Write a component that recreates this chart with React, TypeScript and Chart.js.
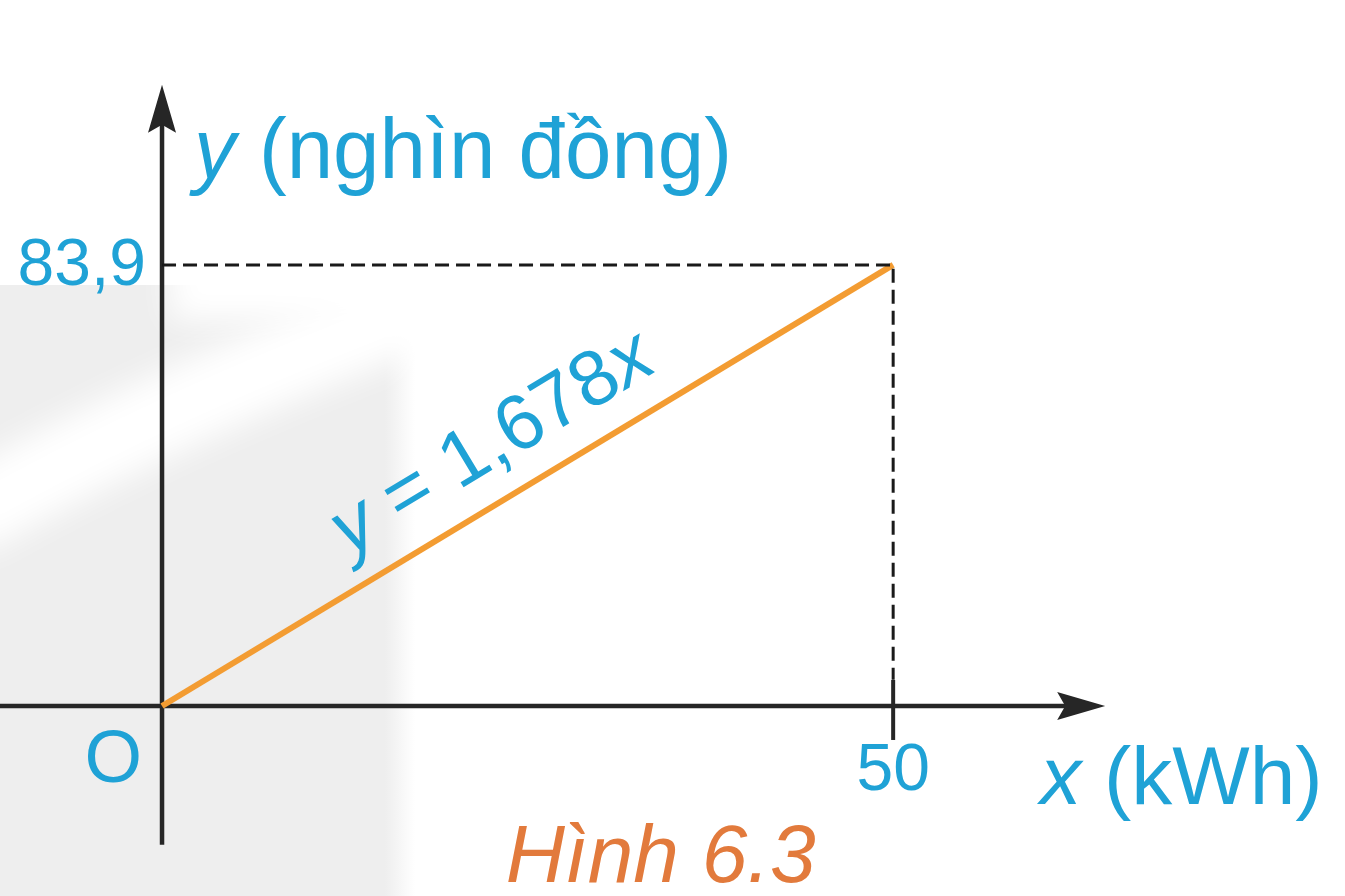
import React, { useEffect, useRef } from 'react';
import { Chart, registerables } from 'chart.js';

Chart.register(...registerables);

// ===== data =====
const X_VALUES = [0, 50]; // kWh
const Y_VALUES = [0, 83.9]; // nghìn đồng
const X_TICKS = [50];
const X_TICK_LABELS = ['50'];
const Y_TICKS = [83.9];
const Y_TICK_LABELS = ['83,9'];
const ORIGIN_LABEL = 'O';
// [text, italic] runs so the variable letters come out in italic
const X_TITLE: [string, boolean][] = [['x', true], [' (kWh)', false]];
const Y_TITLE: [string, boolean][] = [['y', true], [' (nghìn đồng)', false]];
const LINE_LABEL: [string, boolean][] = [['y', true], [' = 1,678', false], ['x', true]];
const CAPTION = 'Hình 6.3';

// visible window and axis extents (data units)
const X_MIN = -11.08;
const X_MAX = 80.9;
const Y_MIN = -36.15;
const Y_MAX = 134.3;
const X_AXIS_END = 64.5;
const Y_AXIS_START = -26.4;
const Y_AXIS_END = 118.2;
const LINE_LABEL_AT = 24.5;

const W = 1345;
const H = 896;

const BLUE = '#1fa2d6';
const ORANGE = '#f39c32';
const CAPTION_COLOR = '#e27a3c';
const AXIS_COLOR = '#262626';
const FONT = '"Liberation Sans", Arial, sans-serif';

function fontOf(size: number, italic: boolean) {
  return `${italic ? 'italic ' : ''}${size}px ${FONT}`;
}

// draws a line of text made of runs; align is applied to the whole line
function drawRuns(
  ctx: CanvasRenderingContext2D,
  runs: [string, boolean][],
  x: number,
  y: number,
  size: number,
  color: string,
  align: 'left' | 'center' | 'right',
  baseline: CanvasTextBaseline,
  sx = 1,
) {
  ctx.save();
  ctx.translate(x, y);
  ctx.scale(sx, 1);
  ctx.fillStyle = color;
  ctx.textBaseline = baseline;
  ctx.textAlign = 'left';
  let total = 0;
  const widths = runs.map(([t, it]) => {
    ctx.font = fontOf(size, it);
    const w = ctx.measureText(t).width;
    total += w;
    return w;
  });
  let cx = align === 'left' ? 0 : align === 'center' ? -total / 2 : -total;
  runs.forEach(([t, it], i) => {
    ctx.font = fontOf(size, it);
    ctx.fillText(t, cx, 0);
    cx += widths[i];
  });
  ctx.restore();
}

function drawText(
  ctx: CanvasRenderingContext2D,
  str: string,
  x: number,
  y: number,
  size: number,
  color: string,
  align: 'left' | 'center' | 'right',
  baseline: CanvasTextBaseline,
  italic = false,
) {
  drawRuns(ctx, [[str, italic]], x, y, size, color, align, baseline);
}

function arrow(ctx: CanvasRenderingContext2D, tx: number, ty: number, ang: number) {
  const len = 48;
  const half = 14;
  ctx.save();
  ctx.translate(tx, ty);
  ctx.rotate(ang);
  ctx.beginPath();
  ctx.moveTo(0, 0);
  ctx.lineTo(-len, -half);
  ctx.lineTo(-len + 8, 0);
  ctx.lineTo(-len, half);
  ctx.closePath();
  ctx.fillStyle = AXIS_COLOR;
  ctx.fill();
  ctx.restore();
}

const backdrop = {
  id: 'backdrop',
  beforeDraw(chart: Chart) {
    const ctx = chart.ctx;
    ctx.save();
    ctx.fillStyle = '#ffffff';
    ctx.fillRect(0, 0, chart.width, chart.height);
    // faint grey watermark on the left
    const g = ctx.createLinearGradient(385, 0, 415, 0);
    g.addColorStop(0, '#eeeeee');
    g.addColorStop(1, 'rgba(238,238,238,0)');
    ctx.fillStyle = g;
    ctx.fillRect(0, 285, 415, chart.height - 285);
    ctx.filter = 'blur(16px)';
    ctx.strokeStyle = '#ffffff';
    ctx.lineWidth = 80;
    ctx.beginPath();
    ctx.moveTo(-40, 520);
    ctx.quadraticCurveTo(170, 400, 440, 300);
    ctx.stroke();
    ctx.fillStyle = '#ffffff';
    ctx.fillRect(170, 250, 260, 70);
    ctx.restore();
  },
};

const axesPlugin = {
  id: 'axes',
  beforeDatasetsDraw(chart: Chart) {
    const ctx = chart.ctx;
    const xs = chart.scales.x;
    const ys = chart.scales.y;
    const ox = xs.getPixelForValue(0);
    const oy = ys.getPixelForValue(0);
    ctx.save();
    ctx.strokeStyle = AXIS_COLOR;
    ctx.lineWidth = 4.5;
    ctx.beginPath();
    ctx.moveTo(xs.getPixelForValue(X_MIN), oy);
    ctx.lineTo(xs.getPixelForValue(X_AXIS_END) - 30, oy);
    ctx.moveTo(ox, ys.getPixelForValue(Y_AXIS_START));
    ctx.lineTo(ox, ys.getPixelForValue(Y_AXIS_END) + 30);
    ctx.stroke();
    // tick marks on the x axis
    ctx.lineWidth = 4;
    X_TICKS.forEach((v) => {
      const px = xs.getPixelForValue(v);
      ctx.beginPath();
      ctx.moveTo(px, oy - 26);
      ctx.lineTo(px, oy + 34);
      ctx.stroke();
    });
    arrow(ctx, xs.getPixelForValue(X_AXIS_END), oy, 0);
    arrow(ctx, ox, ys.getPixelForValue(Y_AXIS_END), -Math.PI / 2);
    ctx.restore();
  },
  afterDatasetsDraw(chart: Chart) {
    const ctx = chart.ctx;
    const xs = chart.scales.x;
    const ys = chart.scales.y;
    const ox = xs.getPixelForValue(0);
    const oy = ys.getPixelForValue(0);

    drawRuns(ctx, Y_TITLE, ox + 32, ys.getPixelForValue(Y_AXIS_END) + 93, 86, BLUE, 'left', 'alphabetic', 0.97);
    Y_TICKS.forEach((v, i) => {
      drawText(ctx, Y_TICK_LABELS[i], ox - 16, ys.getPixelForValue(v) + 2, 66, BLUE, 'right', 'middle');
    });
    X_TICKS.forEach((v, i) => {
      drawText(ctx, X_TICK_LABELS[i], xs.getPixelForValue(v), oy + 66, 66, BLUE, 'center', 'middle');
    });
    drawText(ctx, ORIGIN_LABEL, ox - 20, oy + 56, 74, BLUE, 'right', 'middle');
    drawRuns(ctx, X_TITLE, xs.getPixelForValue(X_AXIS_END) - 65, oy + 98, 82, BLUE, 'left', 'alphabetic');

    // label along the line
    const p0x = xs.getPixelForValue(X_VALUES[0]);
    const p0y = ys.getPixelForValue(Y_VALUES[0]);
    const p1x = xs.getPixelForValue(X_VALUES[1]);
    const p1y = ys.getPixelForValue(Y_VALUES[1]);
    const ang = Math.atan2(p1y - p0y, p1x - p0x);
    const slope = (Y_VALUES[1] - Y_VALUES[0]) / (X_VALUES[1] - X_VALUES[0]);
    const ax = xs.getPixelForValue(LINE_LABEL_AT);
    const ay = ys.getPixelForValue(LINE_LABEL_AT * slope);
    const off = 53;
    ctx.save();
    ctx.translate(ax + Math.sin(ang) * off, ay - Math.cos(ang) * off);
    ctx.rotate(ang);
    drawRuns(ctx, LINE_LABEL, 0, 0, 78, BLUE, 'center', 'middle');
    ctx.restore();

    drawText(ctx, CAPTION, xs.getPixelForValue(23.5), oy + 176, 82, CAPTION_COLOR, 'left', 'alphabetic', true);
  },
};

export default function App() {
  const canvasRef = useRef<HTMLCanvasElement>(null);
  const chartRef = useRef<Chart | null>(null);

  useEffect(() => {
    if (chartRef.current) {
      chartRef.current.destroy();
      chartRef.current = null;
    }
    if (!canvasRef.current) return;
    const ctx = canvasRef.current.getContext('2d');
    if (!ctx) return;

    const linePoints = X_VALUES.map((x, i) => ({ x, y: Y_VALUES[i] }));
    const guidePoints = [
      { x: 0, y: Y_TICKS[0] },
      { x: X_TICKS[0], y: Y_TICKS[0] },
      { x: X_TICKS[0], y: 5 },
    ];

    chartRef.current = new Chart(ctx, {
      type: 'scatter',
      data: {
        datasets: [
          {
            label: 'guide',
            data: guidePoints,
            showLine: true,
            borderColor: '#1a1a1a',
            borderWidth: 3,
            borderDash: [14, 7],
            pointRadius: 0,
            fill: false,
          },
          {
            label: 'y = 1,678x',
            data: linePoints,
            showLine: true,
            borderColor: ORANGE,
            borderWidth: 6,
            pointRadius: 0,
            fill: false,
          },
        ],
      },
      options: {
        responsive: false,
        animation: false,
        layout: { padding: 0 },
        plugins: {
          legend: { display: false },
          tooltip: { enabled: false },
        },
        scales: {
          x: { type: 'linear', min: X_MIN, max: X_MAX, display: false },
          y: { type: 'linear', min: Y_MIN, max: Y_MAX, display: false },
        },
      },
      plugins: [backdrop, axesPlugin],
    });

    return () => {
      if (chartRef.current) {
        chartRef.current.destroy();
        chartRef.current = null;
      }
    };
  }, []);

  return (
    <div style={{ position: 'fixed', left: 0, top: 0, width: W, height: H, background: '#fff' }}>
      <canvas ref={canvasRef} width={W} height={H} style={{ width: W, height: H }} />
    </div>
  );
}
